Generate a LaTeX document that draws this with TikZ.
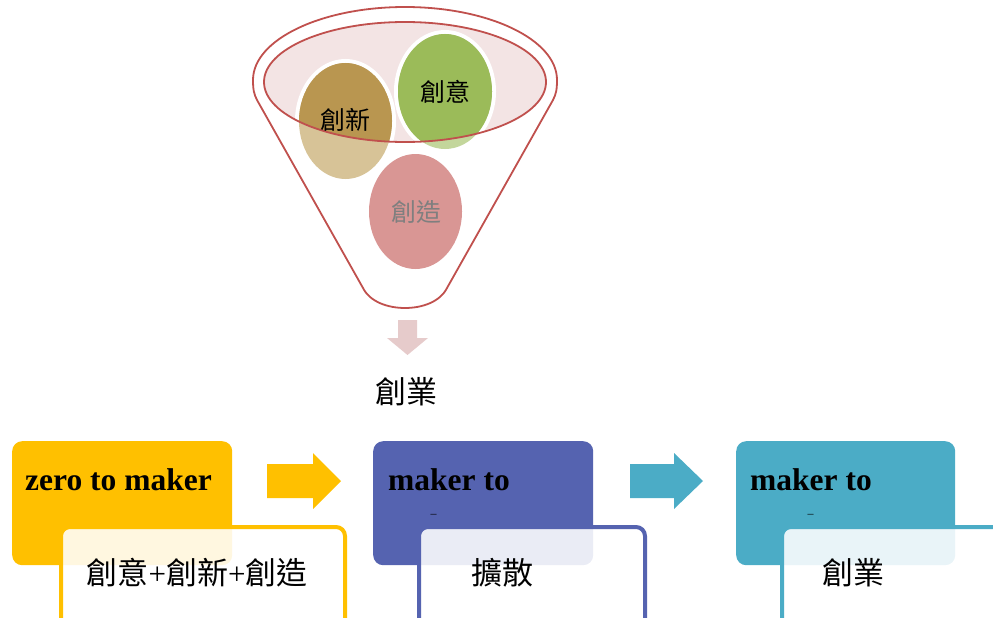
\documentclass[tikz,border=0pt]{standalone}
\usepackage{fontspec}
\setmainfont{Liberation Serif}
\newfontfamily\cjk{Noto Sans CJK TC}
\definecolor{funnelred}{HTML}{C0504D}
\definecolor{innerpink}{HTML}{F3E4E4}
\definecolor{brownD}{HTML}{B99650}
\definecolor{brownL}{HTML}{D7C397}
\definecolor{greenD}{HTML}{9BBB59}
\definecolor{greenL}{HTML}{C3D69B}
\definecolor{redC}{HTML}{D99694}
\definecolor{arrowpink}{HTML}{E6CBCB}
\definecolor{ycol}{HTML}{FFC000}
\definecolor{bcol}{HTML}{5563B0}
\definecolor{tcol}{HTML}{4BACC6}
\definecolor{graytext}{HTML}{7F7F7F}
\begin{document}
\begin{tikzpicture}[x=1pt,y=-1pt,
  funnelline/.style={draw=funnelred,line width=1.8pt},
  ring/.style={draw=white,line width=4pt},
  circtext/.style={font=\cjk\fontsize{25}{30}\selectfont,inner sep=0pt},
  bigcjk/.style={font=\cjk\fontsize{31}{36}\selectfont,inner sep=0pt},
  headtext/.style={font=\bfseries\fontsize{31.5}{36}\selectfont,inner sep=0pt,anchor=base west},
  dashtext/.style={font=\fontsize{12}{14}\selectfont,inner sep=0pt},
  colbox/.style={rectangle,rounded corners=10pt,minimum width=220pt,minimum height=124pt,anchor=north west,inner sep=0pt},
  whitebox/.style={rectangle,rounded corners=9pt,fill=white,fill opacity=0.88,line width=4pt,minimum height=140pt,anchor=north west,inner sep=0pt}
]
\useasboundingbox (0,0) rectangle (993,618);
\clip (0,0) rectangle (993,618);

% funnel body
\draw[funnelline,fill=white] (253,80) arc[start angle=180,end angle=0,x radius=152pt,y radius=73pt]
  .. controls (557,90) and (556,94) .. (553,100) -- (447,288)
  .. controls (440,302) and (422,308) .. (405,308)
  .. controls (388,308) and (370,302) .. (363,288) -- (257,100)
  .. controls (254,94) and (253,90) .. (253,80) -- cycle;
\fill[innerpink] (405,82) ellipse[x radius=141pt,y radius=60pt];

% brown circle
\draw[ring] (345.5,121) ellipse[x radius=48.5pt,y radius=60pt];
\fill[brownL] (345.5,121) ellipse[x radius=46.5pt,y radius=58pt];
\begin{scope}
  \clip (405,82) ellipse[x radius=141pt,y radius=60pt];
  \fill[brownD] (345.5,121) ellipse[x radius=46.5pt,y radius=58pt];
\end{scope}
% green circle
\draw[ring] (445,91.5) ellipse[x radius=49pt,y radius=59.5pt];
\fill[greenL] (445,91.5) ellipse[x radius=47pt,y radius=57.5pt];
\begin{scope}
  \clip (405,82) ellipse[x radius=141pt,y radius=60pt];
  \fill[greenD] (445,91.5) ellipse[x radius=47pt,y radius=57.5pt];
\end{scope}
% red circle
\fill[redC] (415.5,211.5) ellipse[x radius=46.5pt,y radius=57.5pt];

\draw[funnelline] (405,82) ellipse[x radius=141pt,y radius=60pt];

\node[circtext] (cxin) at (345,120) {創新};
\node[circtext] (cyi) at (445,92) {創意};
\node[circtext,text=graytext] (czao) at (416,212) {創造};

% down arrow
\fill[arrowpink] (398,320) -- (417,320) -- (417,338) -- (428,338) -- (407.5,355) -- (387,338) -- (398,338) -- cycle;
\node[bigcjk] (result) at (406,392) {創業};

% bottom boxes
\node[colbox,fill=ycol] (b1) at (12,441) {};
\node[colbox,fill=bcol] (b2) at (373,441) {};
\node[colbox,fill=tcol,minimum width=219pt] (b3) at (736,441) {};

\node[headtext] (t1) at (25,490) {zero to maker};
\node[headtext] (t2) at (388,490) {maker to};
\node[headtext] (t3) at (750,490) {maker to};
\node[dashtext] (d2) at (433.5,516) {–};
\node[dashtext] (d3) at (810.5,516) {–};

\node[whitebox,draw=ycol,minimum width=284pt] (w1) at (59,525) {};
\node[whitebox,draw=bcol,minimum width=226pt] (w2) at (417,525) {};
\node[whitebox,draw=tcol,minimum width=260pt] (w3) at (780,525) {};

\node[bigcjk] (s1) at (197,573) {創意{\rmfamily +}創新{\rmfamily +}創造};
\node[bigcjk] (s2) at (502,573) {擴散};
\node[bigcjk] (s3) at (853,573) {創業};

% block arrows
\fill[ycol] (267,464) -- (313,464) -- (313,453) -- (341,481) -- (313,509) -- (313,498) -- (267,498) -- cycle;
\fill[tcol] (630,464) -- (674,464) -- (674,453) -- (703,481) -- (674,509) -- (674,498) -- (630,498) -- cycle;
\end{tikzpicture}
\end{document}
